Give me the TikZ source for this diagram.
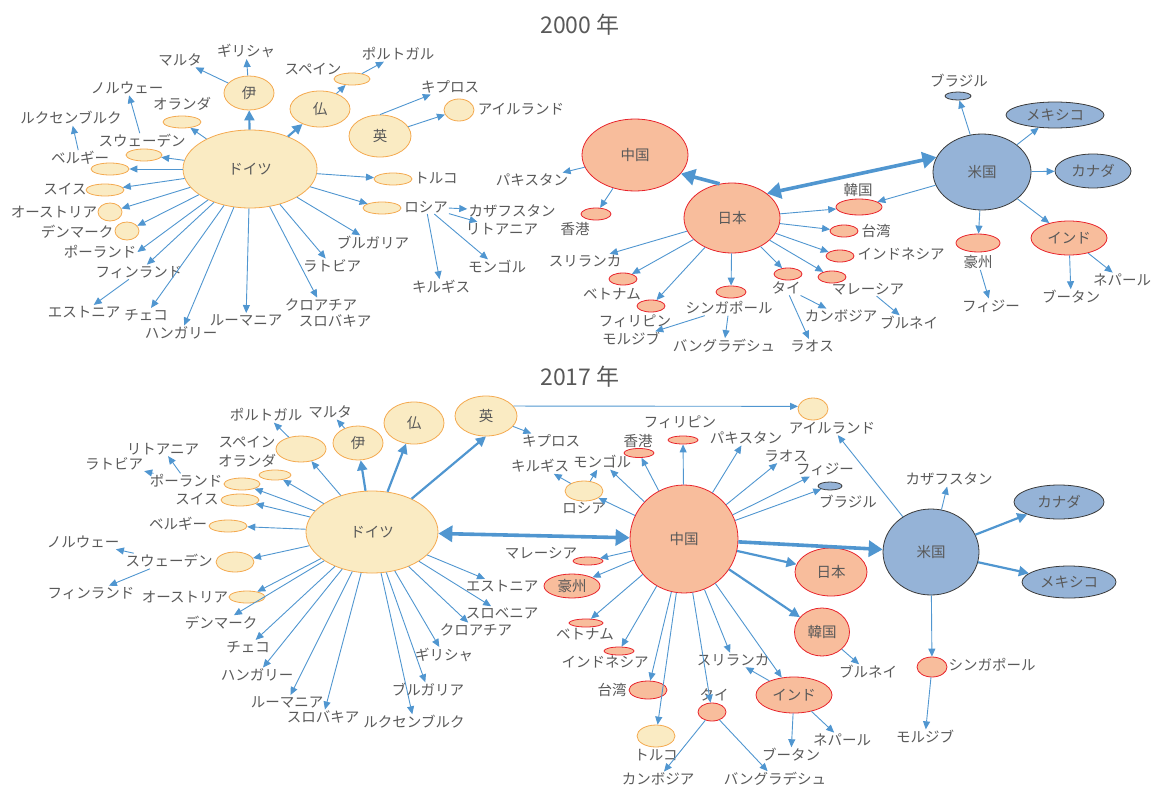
\documentclass[tikz,border=0pt]{standalone}
\usepackage{fontspec}
\setmainfont{Noto Sans CJK JP}
\usetikzlibrary{shapes.geometric,arrows.meta}
\definecolor{eufill}{HTML}{FAEBC3}
\definecolor{euline}{HTML}{F4A94F}
\definecolor{asfill}{HTML}{F8BD9C}
\definecolor{asline}{HTML}{E8232B}
\definecolor{amfill}{HTML}{95B3D7}
\definecolor{amline}{HTML}{3A3A3A}
\definecolor{arr}{HTML}{5096D0}
\definecolor{txt}{HTML}{595959}
\tikzset{
  every node/.style={font=\fontsize{14.5}{16}\selectfont, text=txt, inner sep=1pt},
  sz/.style 2 args={minimum width=#1pt, minimum height=#2pt},
  eu/.style={ellipse, draw=euline, fill=eufill, line width=0.8pt, inner sep=0pt},
  as/.style={ellipse, draw=asline, fill=asfill, line width=0.8pt, inner sep=0pt},
  am/.style={ellipse, draw=amline, fill=amfill, line width=0.8pt, inner sep=0pt},
  title/.style={font=\fontsize{23}{26}\selectfont},
  link/.style={draw=arr, line width=0.9pt, -{Triangle[length=8pt,width=7pt]}},
  mid/.style={draw=arr, line width=2.2pt, -{Triangle[length=10pt,width=10pt]}},
  big/.style={draw=arr, line width=3.6pt, -{Triangle[length=14pt,width=16pt]}},
  both/.style={big, {Triangle[length=14pt,width=16pt]}-{Triangle[length=14pt,width=16pt]}},
}
\begin{document}
\begin{tikzpicture}[x=1pt, y=-1pt]
\useasboundingbox (0,0) rectangle (1158,787);
\node[title] (t00) at (580,25) {2000 年};
\node[title] (t17) at (580,377) {2017 年};
% 2000, Europe
\node[eu, sz={134}{78}] (de00) at (250,169) {ドイツ};
\node[eu, sz={50}{34}] (it00) at (249,93) {伊};
\node[eu, sz={60}{36}] (fr00) at (320,109) {仏};
\node[eu, sz={62}{42}] (uk00) at (380,136) {英};
\node[eu, sz={36}{12}] (es00) at (352,79) {};
\node (esl00) at (313,69) {スペイン};
\node (pt00) at (398,54) {ポルトガル};
\node (cy00) at (450,87) {キプロス};
\node[eu, sz={30}{22}] (ie00) at (459,110) {};
\node (iel00) at (521,109) {アイルランド};
\node[eu, sz={38}{12}] (tr00) at (393,179) {};
\node (trl00) at (436,178) {トルコ};
\node (mt00) at (180,60) {マルタ};
\node (gr00) at (246,51) {ギリシャ};
\node (no00) at (127,88) {ノルウェー};
\node (nll00) at (182,104) {オランダ};
\node[eu, sz={38}{12}] (nl00) at (182,122) {};
\node (lu00) at (71,118) {ルクセンブルク};
\node (sel00) at (142,141) {スウェーデン};
\node[eu, sz={36}{12}] (se00) at (144,155) {};
\node (bel00) at (80,158) {ベルギー};
\node[eu, sz={38}{12}] (be00) at (110,169) {};
\node (chl00) at (65,189) {スイス};
\node[eu, sz={38}{12}] (ch00) at (105,190) {};
\node (atl00) at (54,212) {オーストリア};
\node[eu, sz={24}{18}] (at00) at (110,212) {};
\node (dkl00) at (77,232) {デンマーク};
\node[eu, sz={24}{18}] (dk00) at (127,231) {};
\node (pl00) at (100,252) {ポーランド};
\node (fi00) at (139,272) {フィンランド};
\node (ee00) at (84,312) {エストニア};
\node (cz00) at (146,315) {チェコ};
\node (hu00) at (181,333) {ハンガリー};
\node (ro00) at (246,320) {ルーマニア};
\node (hr00) at (321,305) {クロアチア};
\node (sk00) at (335,321) {スロバキア};
\node (lv00) at (332,266) {ラトビア};
\node (bg00) at (373,243) {ブルガリア};
\node[eu, sz={38}{12}] (ru00) at (382,208) {};
\node (rul00) at (426,207) {ロシア};
\node (kz00) at (512,211) {カザフスタン};
\node (lt00) at (502,229) {リトアニア};
\node (mn00) at (497,267) {モンゴル};
\node (kg00) at (441,287) {キルギス};
% 2000, Asia and America
\node[as, sz={106}{72}] (cn00) at (635,155) {中国};
\node[as, sz={96}{70}] (jp00) at (732,218) {日本};
\node (pk00) at (532,180) {パキスタン};
\node[as, sz={30}{12}] (hk00) at (596,214) {};
\node (hkl00) at (575,229) {香港};
\node[as, sz={46}{16}] (kr00) at (859,207) {};
\node (krl00) at (858,190) {韓国};
\node[as, sz={28}{12}] (tw00) at (844,231) {};
\node (twl00) at (876,231) {台湾};
\node[as, sz={28}{12}] (id00) at (840,256) {};
\node (idl00) at (901,254) {インドネシア};
\node[as, sz={28}{12}] (my00) at (832,277) {};
\node (myl00) at (868,289) {マレーシア};
\node (bn00) at (909,323) {ブルネイ};
\node[as, sz={28}{12}] (th00) at (788,274) {};
\node (thl00) at (786,288) {タイ};
\node (kh00) at (841,316) {カンボジア};
\node (la00) at (812,346) {ラオス};
\node[as, sz={30}{12}] (sg00) at (731,292) {};
\node (sgl00) at (729,308) {シンガポール};
\node (bd00) at (724,346) {バングラデシュ};
\node (mv00) at (631,339) {モルジブ};
\node[as, sz={28}{12}] (ph00) at (651,306) {};
\node (phl00) at (635,321) {フィリピン};
\node[as, sz={28}{12}] (vn00) at (623,279) {};
\node (vnl00) at (612,294) {ベトナム};
\node (lk00) at (585,261) {スリランカ};
\node[am, sz={98}{76}] (us00) at (982,172) {米国};
\node[am, sz={26}{8}] (br00) at (958,96) {};
\node (brl00) at (959,81) {ブラジル};
\node[am, sz={98}{26}] (mx00) at (1055,115) {メキシコ};
\node[am, sz={76}{34}] (ca00) at (1093,171) {カナダ};
\node[as, sz={44}{18}] (au00) at (978,243) {};
\node (aul00) at (978,262) {豪州};
\node (fj00) at (991,306) {フィジー};
\node[as, sz={76}{34}] (in00) at (1069,238) {インド};
\node (bt00) at (1071,297) {ブータン};
\node (np00) at (1122,280) {ネパール};
% 2000, links
\draw[mid] (de00) -- (it00);
\draw[mid] (de00) -- (fr00);
\draw[link] (it00) -- (mt00);
\draw[link] (it00) -- (gr00);
\draw[link] (fr00) -- (es00);
\draw[link] (es00) -- (pt00);
\draw[link] (uk00.north) -- (cy00);
\draw[link] (uk00) -- (ie00);
\draw[link] (de00) -- (tr00);
\draw[link] (de00) -- (ru00);
\draw[link] (rul00) -- (kz00);
\draw[link] (rul00) -- (lt00);
\draw[link] (rul00) -- (mn00);
\draw[link] (rul00) -- (kg00);
\draw[link] (de00) -- (bg00);
\draw[link] (de00) -- (lv00);
\draw[link] (de00) -- (hr00);
\draw[link] (de00) -- (ro00);
\draw[link] (de00) -- (hu00);
\draw[link] (de00) -- (cz00);
\draw[link] (de00) -- (fi00);
\draw[link] (de00) -- (pl00.east);
\draw[link] (de00) -- (dk00);
\draw[link] (de00) -- (at00);
\draw[link] (de00) -- (ch00);
\draw[link] (de00) -- (be00);
\draw[link] (de00) -- (se00);
\draw[link] (de00) -- (nl00);
\draw[link] (fi00) -- (ee00);
\draw[link] (sel00) -- (no00);
\draw[link] (bel00) -- (lu00);
\draw[big] (jp00.110) -- (cn00.-22);
\draw[both] (jp00.35) -- (us00.162);
\draw[link] (cn00) -- (pk00);
\draw[link] (cn00) -- (hk00);
\draw[link] (jp00) -- (kr00);
\draw[link] (jp00) -- (tw00);
\draw[link] (jp00) -- (id00);
\draw[link] (jp00) -- (my00);
\draw[link] (jp00) -- (th00);
\draw[link] (jp00) -- (sg00);
\draw[link] (jp00) -- (ph00);
\draw[link] (jp00) -- (vn00);
\draw[link] (jp00) -- (lk00);
\draw[link] (myl00) -- (bn00);
\draw[link] (thl00) -- (kh00);
\draw[link] (thl00) -- (la00);
\draw[link] (sgl00) -- (bd00);
\draw[link] (sgl00) -- (mv00);
\draw[link] (us00) -- (br00);
\draw[link] (us00) -- (mx00);
\draw[link] (us00) -- (ca00);
\draw[link] (us00) -- (kr00);
\draw[link] (us00) -- (au00);
\draw[link] (us00) -- (in00);
\draw[link] (aul00) -- (fj00);
\draw[link] (in00) -- (bt00);
\draw[link] (in00) -- (np00);
% 2017, Europe
\node[eu, sz={132}{82}] (de17) at (372,532) {ドイツ};
\node[eu, sz={60}{42}] (fr17) at (414,423) {仏};
\node[eu, sz={50}{34}] (it17) at (358,443) {伊};
\node[eu, sz={62}{40}] (uk17) at (486,416) {英};
\node (mt17) at (330,412) {マルタ};
\node (pt17) at (266,415) {ポルトガル};
\node (esl17) at (247,442) {スペイン};
\node[eu, sz={50}{26}] (es17) at (301,449) {};
\node (nll17) at (247,461) {オランダ};
\node[eu, sz={32}{10}] (nl17) at (275,475) {};
\node (lt17) at (163,449) {リトアニア};
\node (lv17) at (114,464) {ラトビア};
\node (pll17) at (186,481) {ポーランド};
\node[eu, sz={36}{12}] (pl17) at (242,484) {};
\node (chl17) at (197,499) {スイス};
\node[eu, sz={38}{12}] (ch17) at (240,500) {};
\node (bel17) at (178,524) {ベルギー};
\node[eu, sz={38}{12}] (be17) at (228,526) {};
\node (no17) at (83,542) {ノルウェー};
\node (sel17) at (169,561) {スウェーデン};
\node[eu, sz={38}{20}] (se17) at (235,562) {};
\node (fi17) at (91,593) {フィンランド};
\node (atl17) at (185,597) {オーストリア};
\node[eu, sz={36}{12}] (at17) at (247,597) {};
\node (dk17) at (221,623) {デンマーク};
\node (cz17) at (248,647) {チェコ};
\node (hu17) at (257,675) {ハンガリー};
\node (ro17) at (287,702) {ルーマニア};
\node (sk17) at (323,717) {スロバキア};
\node (lu17) at (414,722) {ルクセンブルク};
\node (bg17) at (428,690) {ブルガリア};
\node (gr17) at (444,655) {ギリシャ};
\node (hr17) at (476,630) {クロアチア};
\node (si17) at (502,613) {スロベニア};
\node (ee17) at (502,586) {エストニア};
\node (cy17) at (551,441) {キプロス};
\node[eu, sz={30}{22}] (ie17) at (813,409) {};
\node (iel17) at (832,428) {アイルランド};
% 2017, Asia and America
\node[as, sz={108}{108}] (cn17) at (684,539) {中国};
\node[as, sz={56}{24}] (au17) at (572,586) {豪州};
\node[as, sz={30}{8}] (my17) at (588,561) {};
\node (myl17) at (541,553) {マレーシア};
\node[as, sz={30}{9}] (hk17) at (639,453) {};
\node (hkl17) at (638,441) {香港};
\node[as, sz={30}{8}] (ph17) at (683,440) {};
\node (phl17) at (680,422) {フィリピン};
\node (pk17) at (746,438) {パキスタン};
\node (la17) at (786,456) {ラオス};
\node (fj17) at (825,469) {フィジー};
\node[am, sz={24}{8}] (br17) at (830,486) {};
\node (brl17) at (848,502) {ブラジル};
\node (mn17) at (602,462) {モンゴル};
\node (kg17) at (540,466) {キルギス};
\node[eu, sz={38}{20}] (ru17) at (584,491) {};
\node (rul17) at (584,508) {ロシア};
\node[as, sz={72}{48}] (jp17) at (831,572) {日本};
\node[am, sz={96}{86}] (us17) at (931,552) {米国};
\node (kz17) at (949,479) {カザフスタン};
\node[am, sz={90}{34}] (ca17) at (1059,502) {カナダ};
\node[am, sz={94}{32}] (mx17) at (1069,582) {メキシコ};
\node[as, sz={55}{48}] (kr17) at (822,632) {韓国};
\node (bn17) at (868,672) {ブルネイ};
\node[as, sz={30}{20}] (sg17) at (932,667) {};
\node (sgl17) at (992,665) {シンガポール};
\node (mv17) at (925,737) {モルジブ};
\node[as, sz={76}{36}] (in17) at (794,695) {インド};
\node (lk17) at (733,660) {スリランカ};
\node (np17) at (842,740) {ネパール};
\node (bt17) at (791,755) {ブータン};
\node[as, sz={28}{18}] (th17) at (712,712) {};
\node (thl17) at (714,695) {タイ};
\node (kh17) at (658,779) {カンボジア};
\node (bd17) at (775,779) {バングラデシュ};
\node[eu, sz={38}{22}] (tr17) at (656,736) {};
\node (trl17) at (656,755) {トルコ};
\node[as, sz={38}{18}] (tw17) at (648,690) {};
\node (twl17) at (612,690) {台湾};
\node[as, sz={30}{8}] (id17) at (619,651) {};
\node (idl17) at (605,662) {インドネシア};
\node[as, sz={34}{8}] (vn17) at (586,623) {};
\node (vnl17) at (585,634) {ベトナム};
% 2017, links
\draw[both] (de17) -- (cn17);
\draw[mid] (de17.40) -- (uk17.south);
\draw[mid] (de17) -- (fr17);
\draw[mid] (de17) -- (it17);
\draw[link] (it17) -- (mt17);
\draw[link] (de17) -- (es17);
\draw[link] (es17) -- (pt17);
\draw[link] (de17) -- (nl17);
\draw[link] (de17) -- (pl17);
\draw[link] (de17) -- (ch17);
\draw[link] (de17) -- (be17);
\draw[link] (de17) -- (se17);
\draw[link] (de17) -- (at17);
\draw[link] (de17) -- (dk17);
\draw[link] (de17) -- (cz17);
\draw[link] (de17) -- (hu17);
\draw[link] (de17) -- (ro17);
\draw[link] (de17) -- (sk17);
\draw[link] (de17) -- (lu17);
\draw[link] (de17) -- (bg17);
\draw[link] (de17) -- (gr17);
\draw[link] (de17) -- (hr17);
\draw[link] (de17) -- (si17);
\draw[link] (de17) -- (ee17);
\draw[link] (pll17) -- (lt17);
\draw[link] (pll17) -- (lv17);
\draw[link] (sel17) -- (no17);
\draw[link] (sel17) -- (fi17);
\draw[link] (uk17) -- (cy17);
\draw[link] (uk17.20) -- (ie17.170);
\draw[link] (cn17) -- (ru17);
\draw[link] (cn17) -- (mn17);
\draw[link] (cn17) -- (hk17);
\draw[link] (cn17) -- (ph17);
\draw[link] (cn17) -- (pk17);
\draw[link] (cn17) -- (la17);
\draw[link] (cn17) -- (fj17);
\draw[link] (cn17) -- (br17);
\draw[link] (cn17) -- (my17);
\draw[link] (cn17) -- (au17);
\draw[link] (cn17) -- (vn17);
\draw[link] (cn17) -- (id17);
\draw[link] (cn17) -- (tw17);
\draw[link] (cn17) -- (tr17);
\draw[link] (cn17) -- (th17);
\draw[link] (cn17) -- (lk17);
\draw[link] (cn17) -- (in17);
\draw[mid] (cn17) -- (jp17);
\draw[mid] (cn17) -- (kr17);
\draw[big] (cn17) -- (us17);
\draw[link] (ru17) -- (kg17);
\draw[link] (ru17) -- (mn17);
\draw[link] (th17) -- (kh17);
\draw[link] (th17) -- (bd17);
\draw[link] (in17) -- (lk17);
\draw[link] (in17) -- (np17);
\draw[link] (in17) -- (bt17);
\draw[link] (kr17) -- (bn17);
\draw[link] (us17) -- (iel17);
\draw[link] (us17) -- (kz17);
\draw[link] (us17) -- (sg17);
\draw[mid] (us17) -- (ca17);
\draw[mid] (us17) -- (mx17);
\draw[link] (sg17) -- (mv17);
\end{tikzpicture}
\end{document}
